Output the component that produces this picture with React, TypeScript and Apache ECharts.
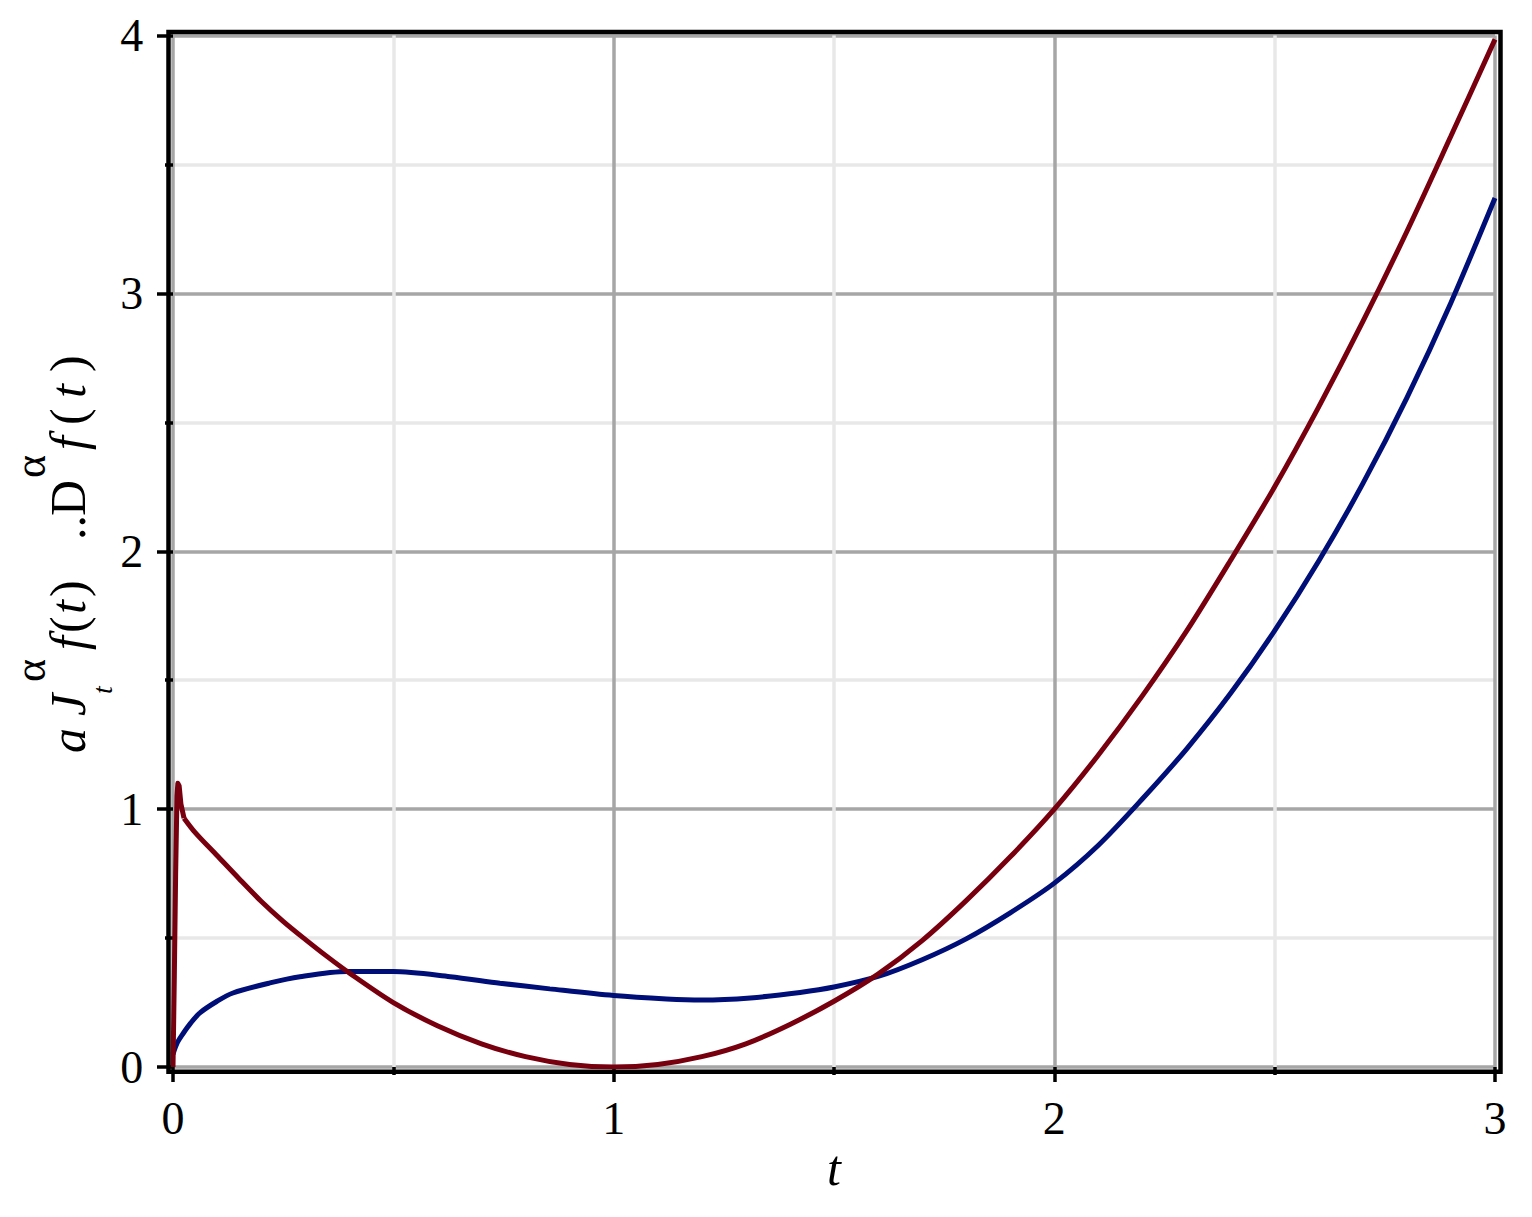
import React, { useEffect, useRef } from "react";
import * as echarts from "echarts";

// Red curve (t, value)
const redT = [0, 0.003, 0.006, 0.009, 0.011, 0.014, 0.018, 0.025, 0.05, 0.1, 0.15, 0.2, 0.25, 0.3, 0.35, 0.4, 0.5, 0.6, 0.7, 0.8, 0.9, 1.0, 1.1, 1.2, 1.3, 1.4, 1.5, 1.6, 1.7, 1.8, 1.9, 2.0, 2.1, 2.2, 2.3, 2.4, 2.5, 2.6, 2.7, 2.8, 2.9, 3.0];
const redV = [0, 0.35, 0.75, 1.05, 1.1, 1.09, 1.02, 0.965, 0.91, 0.82, 0.73, 0.643, 0.565, 0.495, 0.428, 0.365, 0.25, 0.16, 0.09, 0.04, 0.01, 0.0, 0.01, 0.04, 0.09, 0.165, 0.255, 0.36, 0.49, 0.645, 0.815, 1.0, 1.21, 1.44, 1.69, 1.965, 2.25, 2.56, 2.89, 3.24, 3.61, 3.985];
// index where the sharp start-up spike ends and the smooth part begins
const redSpikeEnd = 7;

// Blue curve (t, value)
const blueT = [0, 0.01, 0.023, 0.04, 0.061, 0.1, 0.136, 0.22, 0.288, 0.395, 0.5, 0.629, 0.742, 0.855, 1.0, 1.12, 1.2, 1.31, 1.423, 1.5, 1.6, 1.7, 1.8, 1.9, 2.0, 2.1, 2.2, 2.3, 2.4, 2.5, 2.6, 2.7, 2.8, 2.9, 3.0];
const blueV = [0.05, 0.095, 0.13, 0.17, 0.21, 0.255, 0.287, 0.326, 0.35, 0.37, 0.37, 0.35, 0.325, 0.303, 0.277, 0.264, 0.26, 0.268, 0.289, 0.31, 0.351, 0.416, 0.497, 0.598, 0.713, 0.86, 1.04, 1.233, 1.449, 1.692, 1.962, 2.262, 2.595, 2.964, 3.37];

const xTicks = [0, 1, 2, 3];
const yTicks = [0, 1, 2, 3, 4];

const SERIF = "'Liberation Serif', 'DejaVu Serif', serif";
const RED = "#78000E";
const BLUE = "#000E78";

export default function App() {
  const ref = useRef<HTMLDivElement>(null);
  useEffect(() => {
    if (!ref.current) return;
    const chart = echarts.init(ref.current, undefined, { renderer: "svg" });
    const redData = redT.map((t, i) => [t, redV[i]]);
    const blueData = blueT.map((t, i) => [t, blueV[i]]);

    const fsT = 50;
    const cen = (baseline: number, fs: number) => baseline - 0.3375 * fs;
    const rotText = (text: string, x: number, y: number, fs: number, italic: boolean) => ({
      type: "text",
      x,
      y,
      rotation: Math.PI / 2,
      silent: true,
      style: {
        text,
        fill: "#000",
        font: `${italic ? "italic " : ""}${fs}px ${SERIF}`,
        align: "left",
        verticalAlign: "middle",
      },
    });
    const baseX = 85;

    const option: any = {
      animation: false,
      backgroundColor: "#fff",
      grid: { left: 173, right: 37, top: 35.5, bottom: 150, containLabel: false },
      xAxis: {
        type: "value",
        min: xTicks[0],
        max: xTicks[xTicks.length - 1],
        interval: 1,
        offset: 4.7,
        axisLine: { show: false },
        axisTick: { show: true, length: 15, lineStyle: { color: "#000", width: 3.5 } },
        minorTick: { show: true, splitNumber: 2, length: 8, lineStyle: { color: "#000", width: 3.5 } },
        axisLabel: { color: "#000", fontFamily: SERIF, fontSize: 46, margin: 24 },
        splitLine: { show: true, lineStyle: { color: "#a6a6a6", width: 3.5 } },
        minorSplitLine: { show: true, lineStyle: { color: "#e8e8e8", width: 3.5 } },
      },
      yAxis: {
        type: "value",
        min: yTicks[0],
        max: yTicks[yTicks.length - 1],
        interval: 1,
        offset: 4.7,
        axisLine: { show: false },
        axisTick: { show: true, length: 16, lineStyle: { color: "#000", width: 3.5 } },
        minorTick: { show: true, splitNumber: 2, length: 8, lineStyle: { color: "#000", width: 3.5 } },
        axisLabel: { color: "#000", fontFamily: SERIF, fontSize: 46, margin: 25 },
        splitLine: { show: true, lineStyle: { color: "#a6a6a6", width: 3.5 } },
        minorSplitLine: { show: true, lineStyle: { color: "#e8e8e8", width: 3.5 } },
      },
      graphic: [
        {
          type: "rect",
          silent: true,
          z: 10,
          shape: { x: 168.5, y: 32, width: 1500.5 - 168.5, height: 1071.7 - 32 },
          style: { fill: "none", stroke: "#000", lineWidth: 4.5 },
        },
        {
          type: "text",
          x: 834,
          y: cen(1185, fsT),
          silent: true,
          style: { text: "t", fill: "#000", font: `italic ${fsT}px ${SERIF}`, align: "center", verticalAlign: "middle" },
        },
        rotText("a", cen(baseX, fsT), 753, fsT, true),
        rotText("J", cen(baseX, fsT), 716, fsT, true),
        rotText("t", cen(112, 28), 694, 28, true),
        rotText("α", cen(45, 44), 682, 44, false),
        rotText("f", cen(baseX, fsT), 650, fsT, true),
        rotText("(", cen(baseX, fsT), 633, fsT, false),
        rotText("t", cen(baseX, fsT), 614, fsT, true),
        rotText(")", cen(baseX, fsT), 597, fsT, false),
        rotText("..", cen(baseX, fsT), 540, fsT, false),
        rotText("D", cen(baseX, fsT), 516, fsT, false),
        rotText("α", cen(45, 44), 478, 44, false),
        rotText("f", cen(baseX, fsT), 450, fsT, true),
        rotText("(", cen(baseX, fsT), 425, fsT, false),
        rotText("t", cen(baseX, fsT), 398, fsT, true),
        rotText(")", cen(baseX, fsT), 372, fsT, false),
      ],
      series: [
        {
          name: "D",
          type: "line",
          data: blueData,
          showSymbol: false,
          smooth: 0.3,
          lineStyle: { color: BLUE, width: 5 },
          itemStyle: { color: BLUE },
          z: 3,
        },
        {
          name: "J spike",
          type: "line",
          data: redData.slice(0, redSpikeEnd + 1),
          showSymbol: false,
          smooth: false,
          lineStyle: { color: RED, width: 5, join: "round" },
          itemStyle: { color: RED },
          z: 4,
        },
        {
          name: "J",
          type: "line",
          data: redData.slice(redSpikeEnd),
          showSymbol: false,
          smooth: 0.3,
          lineStyle: { color: RED, width: 5 },
          itemStyle: { color: RED },
          z: 4,
        },
      ],
    };
    chart.setOption(option);
    return () => chart.dispose();
  }, []);
  return <div ref={ref} style={{ width: 1532, height: 1217, margin: -8 }} />;
}
